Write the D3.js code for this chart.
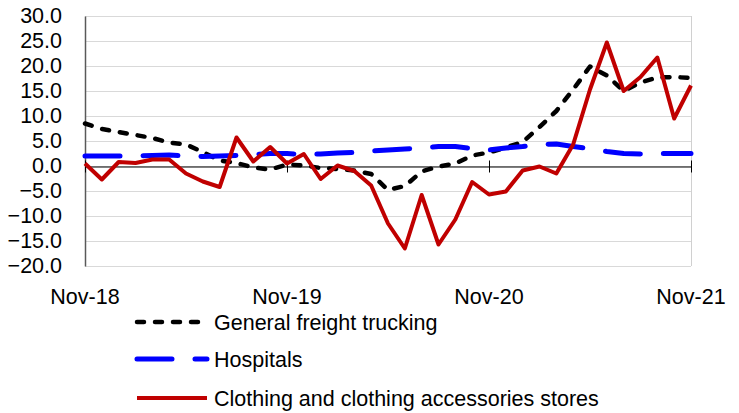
<!DOCTYPE html>
<html>
<head>
<meta charset="utf-8">
<script src="https://cdn.jsdelivr.net/npm/d3@7"></script>
<style>
  body { margin: 0; background: #fff; }
  svg text { font-family: "Liberation Sans", Arial, sans-serif; fill: #000; }
</style>
</head>
<body>
<svg id="chart" width="739" height="413"></svg>
<script>
// monthly values, Nov-18 .. Nov-21
var months = d3.timeMonth.range(new Date(2018, 10, 1), new Date(2021, 11, 1));

var freight = [8.5, 7.4, 6.8, 6.2, 5.6, 4.7, 4.3, 2.8, 1.1, 0.6, -0.3, -0.7,
  0.3, 0.1, -0.4, -0.6, -0.9, -1.6, -4.8, -4.0, -1.1, -0.1, 0.5, 2.1,
  2.7, 3.7, 4.8, 7.8, 11.0, 15.3, 19.9, 18.1, 15.0, 16.7, 17.7, 17.8, 17.6];

var hospitals = [2.0, 2.0, 2.0, 2.0, 2.1, 2.2, 2.0, 1.9, 2.0, 2.1, 2.3, 2.5,
  2.5, 2.3, 2.4, 2.6, 2.7, 3.0, 3.2, 3.4, 3.6, 3.9, 3.9, 3.5,
  3.2, 3.6, 3.9, 4.3, 4.4, 3.9, 3.5, 2.9, 2.5, 2.4, 2.5, 2.5, 2.5];

var clothing = [0.5, -2.7, 0.8, 0.6, 1.3, 1.3, -1.5, -3.1, -4.2, 5.7, 0.9, 3.8,
  0.5, 2.4, -2.6, 0.1, -1.0, -3.9, -11.5, -16.5, -5.8, -15.7, -10.7, -3.2,
  -5.7, -5.1, -0.9, -0.1, -1.5, 4.3, 15.3, 24.7, 15.0, 17.8, 21.7, 9.5, 16.1];

var seriesNames = ["General freight trucking", "Hospitals", "Clothing and clothing accessories stores"];
var yTicks = [-20, -15, -10, -5, 0, 5, 10, 15, 20, 25, 30];
var xTickLabels = ["Nov-18", "Nov-19", "Nov-20", "Nov-21"];
var xTickIndex = [0, 12, 24, 36];

(function() {
  var svg = d3.select("#chart");
  var margin = { top: 16, left: 85, right: 48, bottom: 147 };
  var width = 739 - margin.left - margin.right;
  var height = 413 - margin.top - margin.bottom;
  var fontSize = "21.5px";

  var x = d3.scaleLinear().domain([0, months.length - 1]).range([0, width]);
  var y = d3.scaleLinear().domain([-20, 30]).range([height, 0]);

  var g = svg.append("g")
    .attr("transform", "translate(" + margin.left + "," + margin.top + ")");

  // gridlines
  g.append("g").selectAll("line")
    .data(yTicks)
    .enter().append("line")
    .attr("x1", 0).attr("x2", width)
    .attr("y1", function(d) { return y(d) + 0.5; })
    .attr("y2", function(d) { return y(d) + 0.5; })
    .style("stroke", "#d9d9d9")
    .style("stroke-width", 1);

  // plot area border on the right
  g.append("line")
    .attr("x1", width + 0.5).attr("x2", width + 0.5)
    .attr("y1", 0).attr("y2", height)
    .style("stroke", "#d0d0d0");

  // y axis
  var yAxis = d3.axisLeft(y)
    .tickValues(yTicks)
    .tickSize(0)
    .tickPadding(23)
    .tickFormat(d3.format(".1f"));
  var ya = g.append("g").call(yAxis);
  ya.select(".domain").style("stroke", "#595959").style("stroke-width", 1.5);
  ya.selectAll("text").style("font-size", fontSize).style("font-family", null);

  // zero line with crossing ticks
  var xAxis = d3.axisBottom(x)
    .tickValues(xTickIndex)
    .tickSizeInner(6)
    .tickSizeOuter(0)
    .tickFormat("");
  var xa = g.append("g")
    .attr("transform", "translate(0," + (y(0) + 0.5) + ")")
    .call(xAxis);
  xa.select(".domain").style("stroke", "#000");
  xa.selectAll(".tick line").attr("y1", -6).attr("y2", 6).style("stroke", "#000");

  // x tick labels below the plot
  g.append("g").selectAll("text")
    .data(xTickIndex)
    .enter().append("text")
    .attr("x", function(d) { return x(d); })
    .attr("y", height + 30)
    .attr("dy", "0.35em")
    .attr("text-anchor", "middle")
    .style("font-size", fontSize)
    .text(function(d, i) { return xTickLabels[i]; });

  var styles = [
    { color: "#000000", width: 4.5, dash: "7,11", cap: "round" },
    { color: "#0000ff", width: 5, dash: "35,23", cap: "round" },
    { color: "#c00000", width: 4, dash: null, cap: "butt" }
  ];
  var seriesData = [freight, hospitals, clothing];

  var line = d3.line()
    .x(function(d, i) { return x(i); })
    .y(function(d) { return y(d); });

  seriesData.forEach(function(values, k) {
    g.append("path")
      .datum(values)
      .attr("d", line)
      .style("fill", "none")
      .style("stroke", styles[k].color)
      .style("stroke-width", styles[k].width)
      .style("stroke-dasharray", styles[k].dash)
      .style("stroke-linecap", styles[k].cap)
      .style("stroke-linejoin", "round");
  });

  // legend
  var legendRows = [322, 359, 398];
  var legend = svg.append("g");
  seriesNames.forEach(function(name, k) {
    var row = legend.append("g").attr("transform", "translate(0," + legendRows[k] + ")");
    row.append("line")
      .attr("x1", 137).attr("x2", 207)
      .attr("y1", 0).attr("y2", 0)
      .style("stroke", styles[k].color)
      .style("stroke-width", styles[k].width)
      .style("stroke-dasharray", styles[k].dash)
      .style("stroke-linecap", styles[k].cap);
    row.append("text")
      .attr("x", 214)
      .attr("dy", "0.35em")
      .style("font-size", fontSize)
      .text(name);
  });
}());
</script>
</body>
</html>
